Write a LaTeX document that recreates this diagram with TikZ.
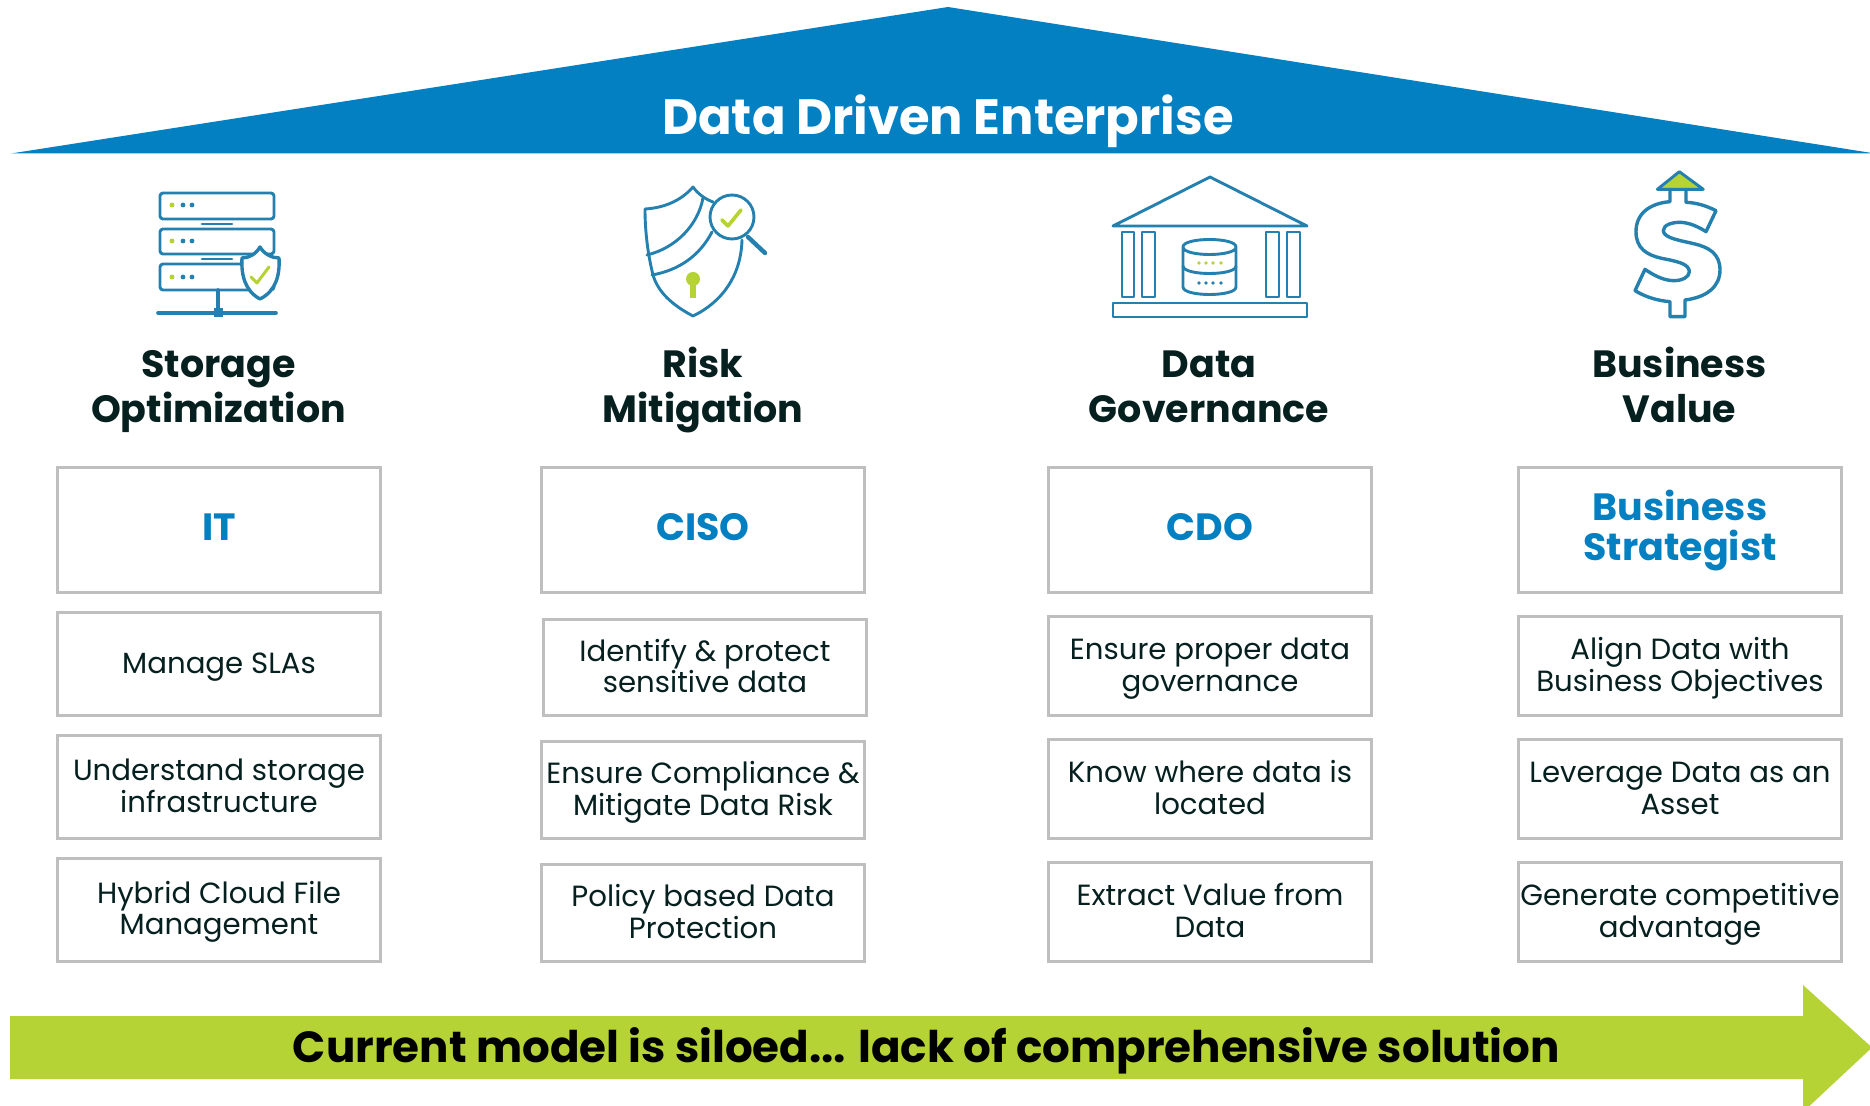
\documentclass[tikz,border=0pt]{standalone}
\usepackage{fontspec}
\setmainfont{Poppins}
\definecolor{roofblue}{HTML}{0380C1}
\definecolor{iconblue}{HTML}{2480AE}
\definecolor{limeg}{HTML}{B5D334}
\definecolor{inkdark}{HTML}{06201F}
\definecolor{boxgray}{HTML}{BFBFBF}
\newcommand{\mytop}{}
\newcommand{\mybot}{}
\tikzset{
 roof/.style={fill=roofblue,draw=none},
 banner/.style={fill=limeg,draw=none},
 titletext/.style={text=white,anchor=base,font=\fontsize{24.8}{27}\selectfont\bfseries,inner sep=0pt},
 bannertext/.style={text=black,anchor=base,font=\fontsize{21.8}{25}\selectfont\bfseries,inner sep=0pt},
 headtext/.style={text=inkdark,align=center,inner sep=0pt,font=\fontsize{19}{22.5}\selectfont\bfseries,
   execute at begin node={\renewcommand{\mytop}{\rule{0pt}{18pt}}\renewcommand{\mybot}{\rule[-6pt]{0pt}{6pt}}}},
 cardbox/.style={draw=boxgray,line width=1.5pt,fill=white,inner sep=0pt,align=center},
 rolebox/.style={cardbox,text=roofblue,font=\fontsize{19}{20}\selectfont\bfseries,
   execute at begin node={\renewcommand{\mytop}{\rule{0pt}{20pt}}\renewcommand{\mybot}{\rule[-9pt]{0pt}{9pt}}}},
 itembox/.style={cardbox,text=inkdark,font=\fontsize{14.6}{15.75}\selectfont,
   execute at begin node={\renewcommand{\mytop}{\rule{0pt}{15.5pt}}\renewcommand{\mybot}{\rule[-6pt]{0pt}{6pt}}}},
 ico/.style={draw=iconblue,line width=1.45pt,line join=round,line cap=round},
 icothick/.style={draw=iconblue,line width=2.2pt,line cap=round},
 limeline/.style={draw=limeg,line width=1.5pt,line cap=round,line join=round},
}
\newcommand{\cardbox}[7]{\node[#6,minimum width={(#4-#2)*0.5pt},minimum height={(#5-#3)*0.5pt}] (#1) at ({(#2+#4)/2},{(#3+#5)/2}) {\mytop #7\mybot};}
\begin{document}
\begin{tikzpicture}[x=0.5pt,y=-0.5pt]
\useasboundingbox (0,0) rectangle (1870,1106);
% roof
\fill[roof] (11,153.5) -- (948,7) -- (1875,153.5) -- cycle;
\node[titletext] (title) at (948,135) {Data Driven Enterprise};
% banner
\fill[banner] (10,1016) -- (1803,1016) -- (1803,985) -- (1872,1047.5) -- (1803,1112) -- (1803,1079) -- (10,1079) -- cycle;
\node[bannertext] (bannerlabel) at (926.5,1062) {Current model is siloed... lack of comprehensive solution};
% headings
\node[headtext] (h1) at (218.5,388.5) {\mytop Storage\\Optimization\mybot};
\node[headtext] (h2) at (703,388.5) {\mytop Risk\\Mitigation\mybot};
\node[headtext] (h3) at (1209,388.5) {\mytop Data\\Governance\mybot};
\node[headtext] (h4) at (1679.5,388.5) {\mytop Business\\Value\mybot};
% column 1
\cardbox{r1}{57.5}{467.5}{380.5}{592.5}{rolebox}{IT}
\cardbox{a1}{57.5}{612.5}{380.5}{715.5}{itembox}{Manage SLAs}
\cardbox{a2}{57.5}{735.5}{380.5}{838.5}{itembox}{Understand storage\\infrastructure}
\cardbox{a3}{57.5}{858.5}{380.5}{961}{itembox}{Hybrid Cloud File\\Management}
% column 2
\cardbox{r2}{541.5}{467.5}{864.5}{592.5}{rolebox}{CISO}
\cardbox{b1}{543.5}{619.5}{866.5}{715.5}{itembox}{Identify \& protect\\sensitive data}
\cardbox{b2}{541.5}{741.5}{864.5}{838.5}{itembox}{Ensure Compliance \&\\Mitigate Data Risk}
\cardbox{b3}{541.5}{864.5}{864.5}{961}{itembox}{Policy based Data\\Protection}
% column 3
\cardbox{r3}{1048.5}{467.5}{1371.5}{592.5}{rolebox}{CDO}
\cardbox{c1}{1048.5}{616.5}{1371.5}{715.5}{itembox}{Ensure proper data\\governance}
\cardbox{c2}{1048.5}{739.5}{1371.5}{838.5}{itembox}{Know where data is\\located}
\cardbox{c3}{1048.5}{862.5}{1371.5}{961}{itembox}{Extract Value from\\Data}
% column 4
\cardbox{r4}{1518.5}{467.5}{1841.5}{592.5}{rolebox}{Business\\Strategist}
\cardbox{d1}{1518.5}{616.5}{1841.5}{715.5}{itembox}{Align Data with\\Business Objectives}
\cardbox{d2}{1518.5}{739.5}{1841.5}{838.5}{itembox}{Leverage Data as an\\Asset}
\cardbox{d3}{1518.5}{862.5}{1841.5}{961}{itembox}{Generate competitive\\advantage}
% icon 1: servers
\draw[ico,rounded corners=1.5pt] (160,193) rectangle (274,219);
\draw[ico,rounded corners=1.5pt] (160,229) rectangle (274,254);
\draw[ico,rounded corners=1.5pt] (160,264) rectangle (274,290);
\draw[ico] (202,224) -- (232,224);
\draw[ico] (202,259) -- (232,259);
\foreach \yy in {205,241,277}{
 \fill[limeg] (172,\yy) circle (2.5);
 \fill[iconblue] (183,\yy) circle (2.4);
 \fill[iconblue] (192,\yy) circle (2.4);
}
\draw[ico,line width=1.8pt] (218,290) -- (218,313);
\draw[ico,line width=1.8pt] (158,313) -- (276,313);
\fill[iconblue] (213.5,308.5) rectangle (222.5,317.5);
\draw[ico,fill=white,line width=1.7pt] (260,247) .. controls (264,254) and (272,258) .. (279,258) .. controls (280,275) and (276,291) .. (260,299) .. controls (245,291) and (241,275) .. (242,258) .. controls (249,258) and (256,254) .. (260,247) -- cycle;
\draw[limeline] (251,277) -- (257,283) -- (269,267);
% icon 2: shield and lens
\draw[ico] (742,240) .. controls (741,276) and (722,302) .. (693,316) .. controls (672,305) and (658,292) .. (653,275) .. controls (648,255) and (645,232) .. (645,209) .. controls (662,208) and (680,202) .. (693,187) .. controls (698,194) and (705,199) .. (713,202);
\draw[ico] (703,198) .. controls (698,225) and (676,248) .. (647,255);
\draw[ico] (712,232) .. controls (700,255) and (680,270) .. (652,275);
\fill[limeg] (693,279) circle (7);
\fill[limeg] (690,282) rectangle (696,298);
\draw[icothick] (748,237) -- (765,253);
\draw[ico,fill=white] (732,217) circle (22);
\draw[limeline,line width=1.8pt] (722,220) -- (728,226) -- (741,210);
% icon 3: bank
\draw[ico] (1210,177) -- (1307,226) -- (1113,226) -- cycle;
\draw[ico] (1122,232) rectangle (1134,297);
\draw[ico] (1142,232) rectangle (1155,297);
\draw[ico] (1266,232) rectangle (1279,297);
\draw[ico] (1287,232) rectangle (1300,297);
\draw[ico] (1113,303) rectangle (1307,317);
\draw[ico] (1183,247) .. controls (1183,237) and (1236,237) .. (1236,247) .. controls (1236,257) and (1183,257) .. (1183,247) -- (1183,287) .. controls (1183,297) and (1236,297) .. (1236,287) -- (1236,247);
\draw[ico] (1183,266) .. controls (1183,276) and (1236,276) .. (1236,266);
\foreach \xx in {1199,1206,1213,1221}{
 \fill[limeg] (\xx,263) circle (1.8);
 \fill[iconblue] (\xx,283) circle (1.8);
}
% icon 4: dollar
\begin{scope}[shift={(1600,160)},scale=1/3]
\draw[ico,fill=limeg] (238,35) -- (310,88) -- (172,88) -- cycle;
\draw[ico,line width=1.7pt] (210,88)--(210,125) .. controls (150,130) and (108,160) .. (108,215) .. controls (108,265) and (140,285) .. (185,295) .. controls (225,303) and (268,310) .. (268,335) .. controls (268,352) and (245,362) .. (222,362) .. controls (190,362) and (160,345) .. (135,328) -- (105,392) .. controls (135,410) and (170,422) .. (210,425) -- (210,470) -- (255,470) -- (255,420) .. controls (320,412) and (360,380) .. (360,330) .. controls (360,280) and (325,262) .. (285,252) .. controls (245,242) and (190,235) .. (190,212) .. controls (190,195) and (215,187) .. (240,187) .. controls (265,187) and (295,200) .. (318,215) -- (348,152) .. controls (320,138) and (290,128) .. (258,127) -- (258,88);
\end{scope}
\end{tikzpicture}
\end{document}
